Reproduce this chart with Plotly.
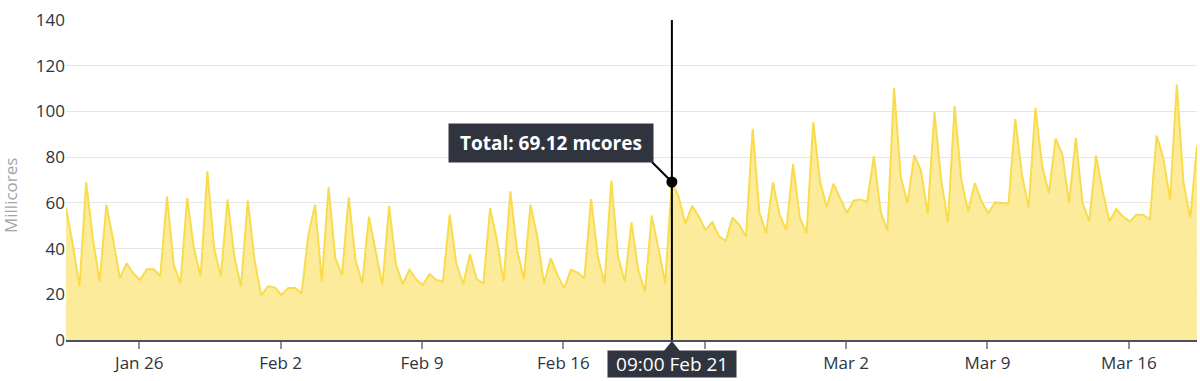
import pandas as pd
import plotly.graph_objects as go

# Data: one sample every 8 hours from 2023-01-22 09:00 to 2023-03-19 09:00
start_time = "2023-01-22 09:00"
step = "8h"
millicores = [
    57.7, 42, 23.4, 69, 44, 25.6, 59.2, 44, 27, 33.6,
    29.2, 26.3, 31, 31, 28, 62.8, 32.9, 24.8, 62.1, 40.2,
    27.8, 73.8, 40.2, 27.8, 61.4, 36.5, 23.4, 61.1, 35, 19.5,
    23.5, 23, 19.7, 22.7, 22.7, 20.5, 46, 59.2, 25.6, 66.8,
    35.8, 28.5, 62.4, 35.1, 24.8, 54, 38.7, 24.1, 58.7, 33.3,
    24.4, 30.7, 26.6, 24.1, 28.9, 26.3, 25.6, 54.8, 33.3, 24.4,
    37.6, 26.6, 24.8, 57.7, 43.8, 25.6, 65, 39.5, 26.6, 59.2,
    45.3, 24.8, 35.8, 28.5, 22.7, 30.7, 29.5, 27, 61.7, 36.5,
    24.8, 69.7, 36.5, 25.6, 51.4, 30.7, 21.2, 54.4, 40.2, 24.8,
    69.12, 62.8, 50.9, 58.7, 54, 48.2, 51.6, 45.3, 43.4, 53.6,
    50.4, 45.3, 92.4, 55.8, 46.8, 69, 54.8, 48.2, 77, 53.4,
    46.8, 95.3, 69.4, 58.2, 68.4, 62.1, 55.6, 61, 61.5, 60.4,
    80.4, 56.3, 47.8, 110.3, 71.3, 59.9, 80.8, 74.1, 55.2, 99.7,
    70.1, 51.4, 102.3, 69.8, 56.3, 68.7, 60.6, 55.5, 60.2, 59.9,
    59.6, 96.7, 72.3, 57.7, 101.6, 76.3, 64.3, 88.1, 81.1, 59.9,
    88.4, 59.9, 51.9, 80.8, 65, 51.9, 57.3, 54, 51.9, 54.8,
    54.8, 52.6, 89.4, 79.6, 61.4, 111.8, 68.7, 53.4, 85,
]
tick_dates = ["2023-01-26", "2023-02-02", "2023-02-09", "2023-02-16",
              "2023-02-23", "2023-03-02", "2023-03-09", "2023-03-16"]
tick_labels = ["Jan 26", "Feb 2", "Feb 9", "Feb 16", "", "Mar 2", "Mar 9", "Mar 16"]
hover_index = 90
y_title = "Millicores"

times = pd.date_range(start=start_time, periods=len(millicores), freq=step)
hx = times[hover_index]
hy = millicores[hover_index]

FONT = "Open Sans, Noto Sans, sans-serif"
DARK = "#30343f"
NB = "&nbsp;"
THIN = "&#8201;"

fig = go.Figure()
fig.add_trace(go.Scatter(
    x=times, y=millicores, mode="lines",
    line=dict(color="#f9dc4e", width=2),
    fill="tozeroy", fillcolor="rgba(252,234,150,0.95)",
    hoverinfo="skip", showlegend=False,
))
fig.add_trace(go.Scatter(
    x=[hx], y=[hy], mode="markers",
    marker=dict(color="black", size=11),
    hoverinfo="skip", showlegend=False,
))

shapes = [
    dict(type="line", xref="x", yref="paper", x0=hx, x1=hx, y0=0, y1=1.0,
         line=dict(color="black", width=2), layer="above"),
    dict(type="line", xref="x", yref="y", xsizemode="pixel", ysizemode="pixel",
         xanchor=hx, yanchor=hy, x0=0, y0=0, x1=-20, y1=20,
         line=dict(color="black", width=2), layer="above"),
    dict(type="path", xref="x", yref="paper", xsizemode="pixel", ysizemode="pixel",
         xanchor=hx, yanchor=0, path="M0,-1 L-8,-11 L8,-11 Z",
         fillcolor=DARK, line=dict(width=0), layer="above"),
]

annotations = [
    dict(xref="x", yref="y", x=hx, y=hy, xanchor="right", yanchor="bottom",
         xshift=-18, yshift=19, showarrow=False,
         text=NB + "<b>Total: %.2f mcores</b>" % hy + NB,
         font=dict(family=FONT, size=19, color="white"),
         bgcolor=DARK, borderpad=6),
    dict(xref="x", yref="paper", x=hx, y=0, xanchor="center", yanchor="top",
         yshift=-10, showarrow=False,
         text=NB + THIN + hx.strftime("%H:%M %b %-d") + THIN + NB,
         font=dict(family=FONT, size=19, color="white"),
         bgcolor=DARK, borderpad=0),
    dict(xref="paper", yref="paper", x=0, y=0.45, xanchor="center", yanchor="middle",
         xshift=-56, showarrow=False, textangle=-90, text=y_title,
         font=dict(family=FONT, size=17, color="#a0a4aa")),
]

fig.update_layout(
    width=1200, height=381,
    margin=dict(l=66, r=3, t=20, b=41),
    paper_bgcolor="white", plot_bgcolor="white",
    font=dict(family=FONT, size=17, color="#333333"),
    hovermode=False,
    shapes=shapes, annotations=annotations,
    xaxis=dict(
        range=[times[0], times[-1]], automargin=False,
        tickvals=pd.to_datetime(tick_dates), ticktext=tick_labels,
        showgrid=False, showline=True, linecolor="#4a5060", linewidth=2,
        ticks="outside", ticklen=7, tickwidth=2, tickcolor="#8a909c",
        tickfont=dict(size=17, color="#2f3340"), zeroline=False,
    ),
    yaxis=dict(
        range=[0, 140], dtick=20, showgrid=True, gridcolor="#e5e5e5", gridwidth=1,
        zeroline=False, showline=False, ticks="", automargin=False,
        tickfont=dict(size=17, color="#2f3340"),
    ),
)

fig.write_html("out.html", config={"displayModeBar": False},
               post_script="document.body.style.margin='0';document.body.style.overflow='hidden';")
